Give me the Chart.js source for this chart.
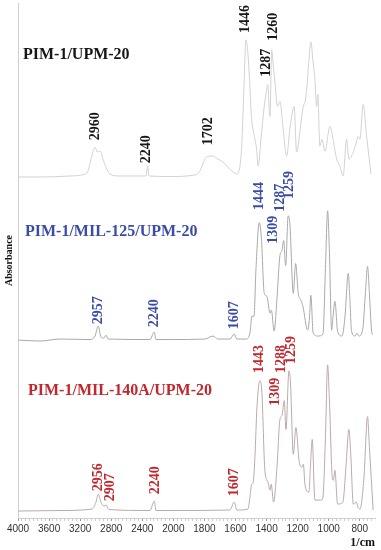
<!DOCTYPE html>
<html>
<head>
<meta charset="utf-8">
<script src="https://cdn.jsdelivr.net/npm/chart.js@4.4.0/dist/chart.umd.min.js"></script>
<style>
    html, body { margin: 0; padding: 0; background: #fff; }
    #wrap { width: 381px; height: 550px; }
</style>
</head>
<body>
<div id="wrap"><canvas id="ftirChart"></canvas></div>
<script>
// FTIR spectra, values (wavenumber in 1/cm, absorbance in a.u.)

var seriesNames = ['PIM-1/UPM-20', 'PIM-1/MIL-125/UPM-20', 'PIM-1/MIL-140A/UPM-20'];

var upmWave = [4000, 3717, 3331, 3138, 3099, 3060, 3009, 2977, 2945, 2893, 2816, 2687, 2353, 2331, 2314, 2044,
    1861, 1829, 1797, 1771, 1745, 1713, 1681, 1649, 1616, 1589, 1560, 1546, 1533, 1517, 1496, 1481, 1464, 1454,
    1436, 1415, 1404, 1393, 1378, 1367, 1359, 1346, 1329, 1314, 1293, 1271, 1250, 1222, 1207, 1185, 1164, 1153,
    1142, 1127, 1115, 1102, 1089, 1078, 1070, 1057, 1044, 1024, 992, 972, 949, 928, 907, 885, 870, 842, 825, 810,
    799, 778, 756, 728];
var upmAbs = [0, 0, 0.01, 0.03, 0.06, 0.18, 0.30, 0.25, 0.26, 0.15, 0.03, 0.01, 0.01, 0.11, 0.01, 0.005,
    0.02, 0.06, 0.18, 0.21, 0.21, 0.18, 0.15, 0.10, 0.05, 0.03, 0.31, 0.88, 1.38, 1.18, 0.58, 0.43, 0.28, 0.11,
    0.38, 0.71, 0.83, 0.93, 0.61, 1.28, 1.16, 0.95, 0.71, 0.76, 0.48, 0.21, 0.48, 0.71, 0.25, 0.46, 0.71, 0.75,
    0.88, 1.18, 1.36, 1.18, 0.98, 0.71, 0.83, 0.31, 0.38, 0.26, 0.51, 0.38, 0.18, 0.11, 0.01, 0.38, 0.18, 0.25, 0.33, 0.41,
    0.38, 0.73, 0.41, 0.03];

var mil125Wave = [4000, 3717, 3459, 3073, 3009, 2967, 2932, 2893, 2867, 2842, 2301, 2246, 2224, 2044, 1797, 1745,
    1713, 1636, 1608, 1591, 1533, 1507, 1494, 1481, 1468, 1447, 1433, 1415, 1398, 1378, 1369, 1351, 1333, 1314,
    1301, 1290, 1277, 1261, 1250, 1228, 1213, 1196, 1179, 1166, 1136, 1124, 1115, 1100, 1070, 1037, 1021, 1007,
    996, 981, 973, 960, 943, 915, 896, 874, 864, 853, 831, 818, 806, 780, 764, 750, 738, 724, 716];
var mil125Abs = [0, -0.01, 0.01, 0.005, 0.04, 0.14, 0.03, 0.02, 0.05, 0.01, 0.005, 0.08, 0.005, 0.005, 0.01, 0.04,
    0.01, 0.01, 0.06, 0.01, 0.01, 0.07, 0.24, 0.24, 0.72, 1.18, 1.02, 0.47, 0.44, 0.27, 0.30, 0.09, 0.42, 0.85,
    0.90, 1.00, 0.75, 1.25, 1.17, 0.47, 0.77, 0.47, 0.40, 0.34, 0.10, 0.22, 0.45, 0.07, 0.04, 0.06, 0.72, 1.30,
    0.92, 0.10, 0.22, 0.39, 0.09, 0.04, 0.22, 0.67, 0.42, 0.09, 0.04, 0.07, 0.04, 0.12, 0.47, 0.74, 0.47, 0.09, 0.05];

var mil140Wave = [4000, 3459, 3048, 2996, 2967, 2932, 2893, 2867, 2829, 2301, 2246, 2224, 2044, 1636, 1608, 1591,
    1520, 1507, 1496, 1487, 1475, 1462, 1443, 1430, 1411, 1391, 1378, 1370, 1355, 1333, 1314, 1301, 1286, 1275,
    1256, 1246, 1228, 1211, 1191, 1174, 1163, 1153, 1127, 1118, 1106, 1089, 1046, 1037, 1021, 1007, 996, 977,
    970, 960, 943, 909, 889, 870, 857, 842, 822, 812, 799, 773, 750, 738, 714];
var mil140Abs = [0, 0.005, 0.02, 0.09, 0.17, 0.09, 0.05, 0.06, 0.015, 0.005, 0.10, 0.005, 0.005, 0.01, 0.09, 0.01,
    0.02, 0.14, 0.27, 0.28, 0.54, 1.04, 1.31, 1.19, 0.41, 0.29, 0.21, 0.27, 0.09, 0.44, 0.92, 0.96, 1.11, 0.82,
    1.41, 1.29, 0.57, 0.84, 0.51, 0.44, 0.47, 0.27, 0.19, 0.44, 0.72, 0.11, 0.11, 0.14, 0.74, 1.47, 1.14, 0.34,
    0.31, 0.41, 0.07, 0.09, 0.44, 0.82, 0.54, 0.07, 0.09, 0.04, 0.02, 0.34, 0.95, 0.64, 0.01];

// peak labels of each spectrum
var upmPeaks = ['2960', '2240', '1702', '1446', '1287', '1260'];
var mil125Peaks = ['2957', '2240', '1607', '1444', '1309', '1287', '1259'];
var mil140Peaks = ['2956', '2907', '2240', '1607', '1443', '1309', '1288', '1259'];

var xTickLabels = [4000, 3600, 3200, 2800, 2400, 2000, 1800, 1600, 1400, 1200, 1000, 800];

// ---- layout (offsets of the stacked spectra, label spots as [wavenumber, height]) ----
var stackOffset = [3.43, 1.79, 0.07];
var lineColors = ['#d2d2d2', '#a9a9a9', '#bba9a9'];
var textColors = ['#161616', '#3a4ca6', '#c1272d'];
var titleSpots = [[3936, 4.66], [3910, 2.88], [3871, 1.28]];
var peakSpots = [
    [[3009, 3.94], [2346, 3.71], [1777, 3.89], [1535, 5.02], [1400, 4.58], [1357, 4.94]],
    [[2967, 2.09], [2246, 2.06], [1608, 2.04], [1447, 3.24], [1353, 2.90], [1311, 3.22], [1250, 3.35]],
    [[2967, 0.41], [2816, 0.31], [2237, 0.38], [1608, 0.36], [1443, 1.60], [1346, 1.27], [1303, 1.60], [1239, 1.69]]
];

// x axis is expanded 2x below 2000 1/cm
function toAxis(w) { return w >= 2000 ? 4000 - w : 2000 + 2 * (2000 - w); }
function fromAxis(u) { return u <= 2000 ? 4000 - u : 2000 - (u - 2000) / 2; }

var waves = [upmWave, mil125Wave, mil140Wave];
var absorb = [upmAbs, mil125Abs, mil140Abs];
var peakTexts = [upmPeaks, mil125Peaks, mil140Peaks];

var datasets = waves.map(function (wv, i) {
    return {
        label: seriesNames[i],
        data: wv.map(function (w, j) { return { x: toAxis(w), y: absorb[i][j] + stackOffset[i] }; }),
        borderColor: lineColors[i],
        borderWidth: 1,
        pointRadius: 0,
        fill: false,
        cubicInterpolationMode: 'monotone'
    };
});

var serif = '"Liberation Serif", "Times New Roman", serif';

var textPlugin = {
    id: 'spectrumText',
    afterDatasetsDraw: function (chart) {
        var ctx = chart.ctx;
        var xs = chart.scales.x, ys = chart.scales.y;
        ctx.save();
        // peak labels, rotated
        ctx.font = 'bold 14px ' + serif;
        ctx.textAlign = 'center';
        ctx.textBaseline = 'middle';
        peakTexts.forEach(function (list, i) {
            ctx.fillStyle = textColors[i];
            list.forEach(function (t, j) {
                var spot = peakSpots[i][j];
                ctx.save();
                ctx.translate(xs.getPixelForValue(toAxis(spot[0])), ys.getPixelForValue(spot[1]));
                ctx.rotate(-Math.PI / 2);
                ctx.fillText(t, 0, 0);
                ctx.restore();
            });
        });
        // spectrum names
        ctx.font = 'bold 16px ' + serif;
        ctx.textAlign = 'left';
        seriesNames.forEach(function (name, i) {
            ctx.fillStyle = textColors[i];
            ctx.fillText(name, xs.getPixelForValue(toAxis(titleSpots[i][0])), ys.getPixelForValue(titleSpots[i][1]));
        });
        ctx.restore();
    }
};

var ctx = document.getElementById('ftirChart').getContext('2d');
var ftirChart = new Chart(ctx, {
    type: 'line',
    data: { datasets: datasets },
    options: {
        responsive: true,
        maintainAspectRatio: false,
        animation: false,
        layout: { padding: { top: 3, right: 6, left: 0, bottom: 0 } },
        plugins: {
            legend: { display: false },
            tooltip: { enabled: false }
        },
        scales: {
            x: {
                type: 'linear',
                min: 0,
                max: toAxis(702),
                afterBuildTicks: function (scale) {
                    var t = [];
                    var w;
                    for (w = 4000; w > 2000; w -= 50) t.push({ value: toAxis(w) });
                    for (w = 2000; w >= 702; w -= 25) t.push({ value: toAxis(w) });
                    scale.ticks = t;
                },
                ticks: {
                    autoSkip: false,
                    maxRotation: 0,
                    minRotation: 0,
                    padding: 2,
                    color: '#333',
                    font: { family: '"Liberation Sans", Arial, sans-serif', size: 10 },
                    callback: function (value) {
                        var w = Math.round(fromAxis(value));
                        return xTickLabels.indexOf(w) >= 0 ? String(w) : '';
                    }
                },
                grid: {
                    drawOnChartArea: false,
                    drawTicks: true,
                    tickLength: 3,
                    tickColor: function (c) {
                        var w = Math.round(fromAxis(c.tick.value));
                        return xTickLabels.indexOf(w) >= 0 ? '#999' : '#cfcfcf';
                    }
                },
                border: { display: true, color: '#cfcfcf', width: 1 },
                title: {
                    display: true,
                    text: '1/cm',
                    align: 'end',
                    color: '#111',
                    font: { family: serif, size: 12, weight: 'bold', lineHeight: 1 },
                    padding: { top: 0, bottom: 1 }
                }
            },
            y: {
                min: 0,
                max: 5.18,
                ticks: { display: false },
                grid: { display: false, drawTicks: false },
                border: { display: true, color: '#cfcfcf', width: 1 },
                title: {
                    display: true,
                    text: 'Absorbance',
                    color: '#111',
                    font: { family: serif, size: 10, weight: 'bold', lineHeight: 1.2 },
                    padding: { top: 3, bottom: 3 }
                }
            }
        }
    },
    plugins: [textPlugin]
});
</script>
</body>
</html>
